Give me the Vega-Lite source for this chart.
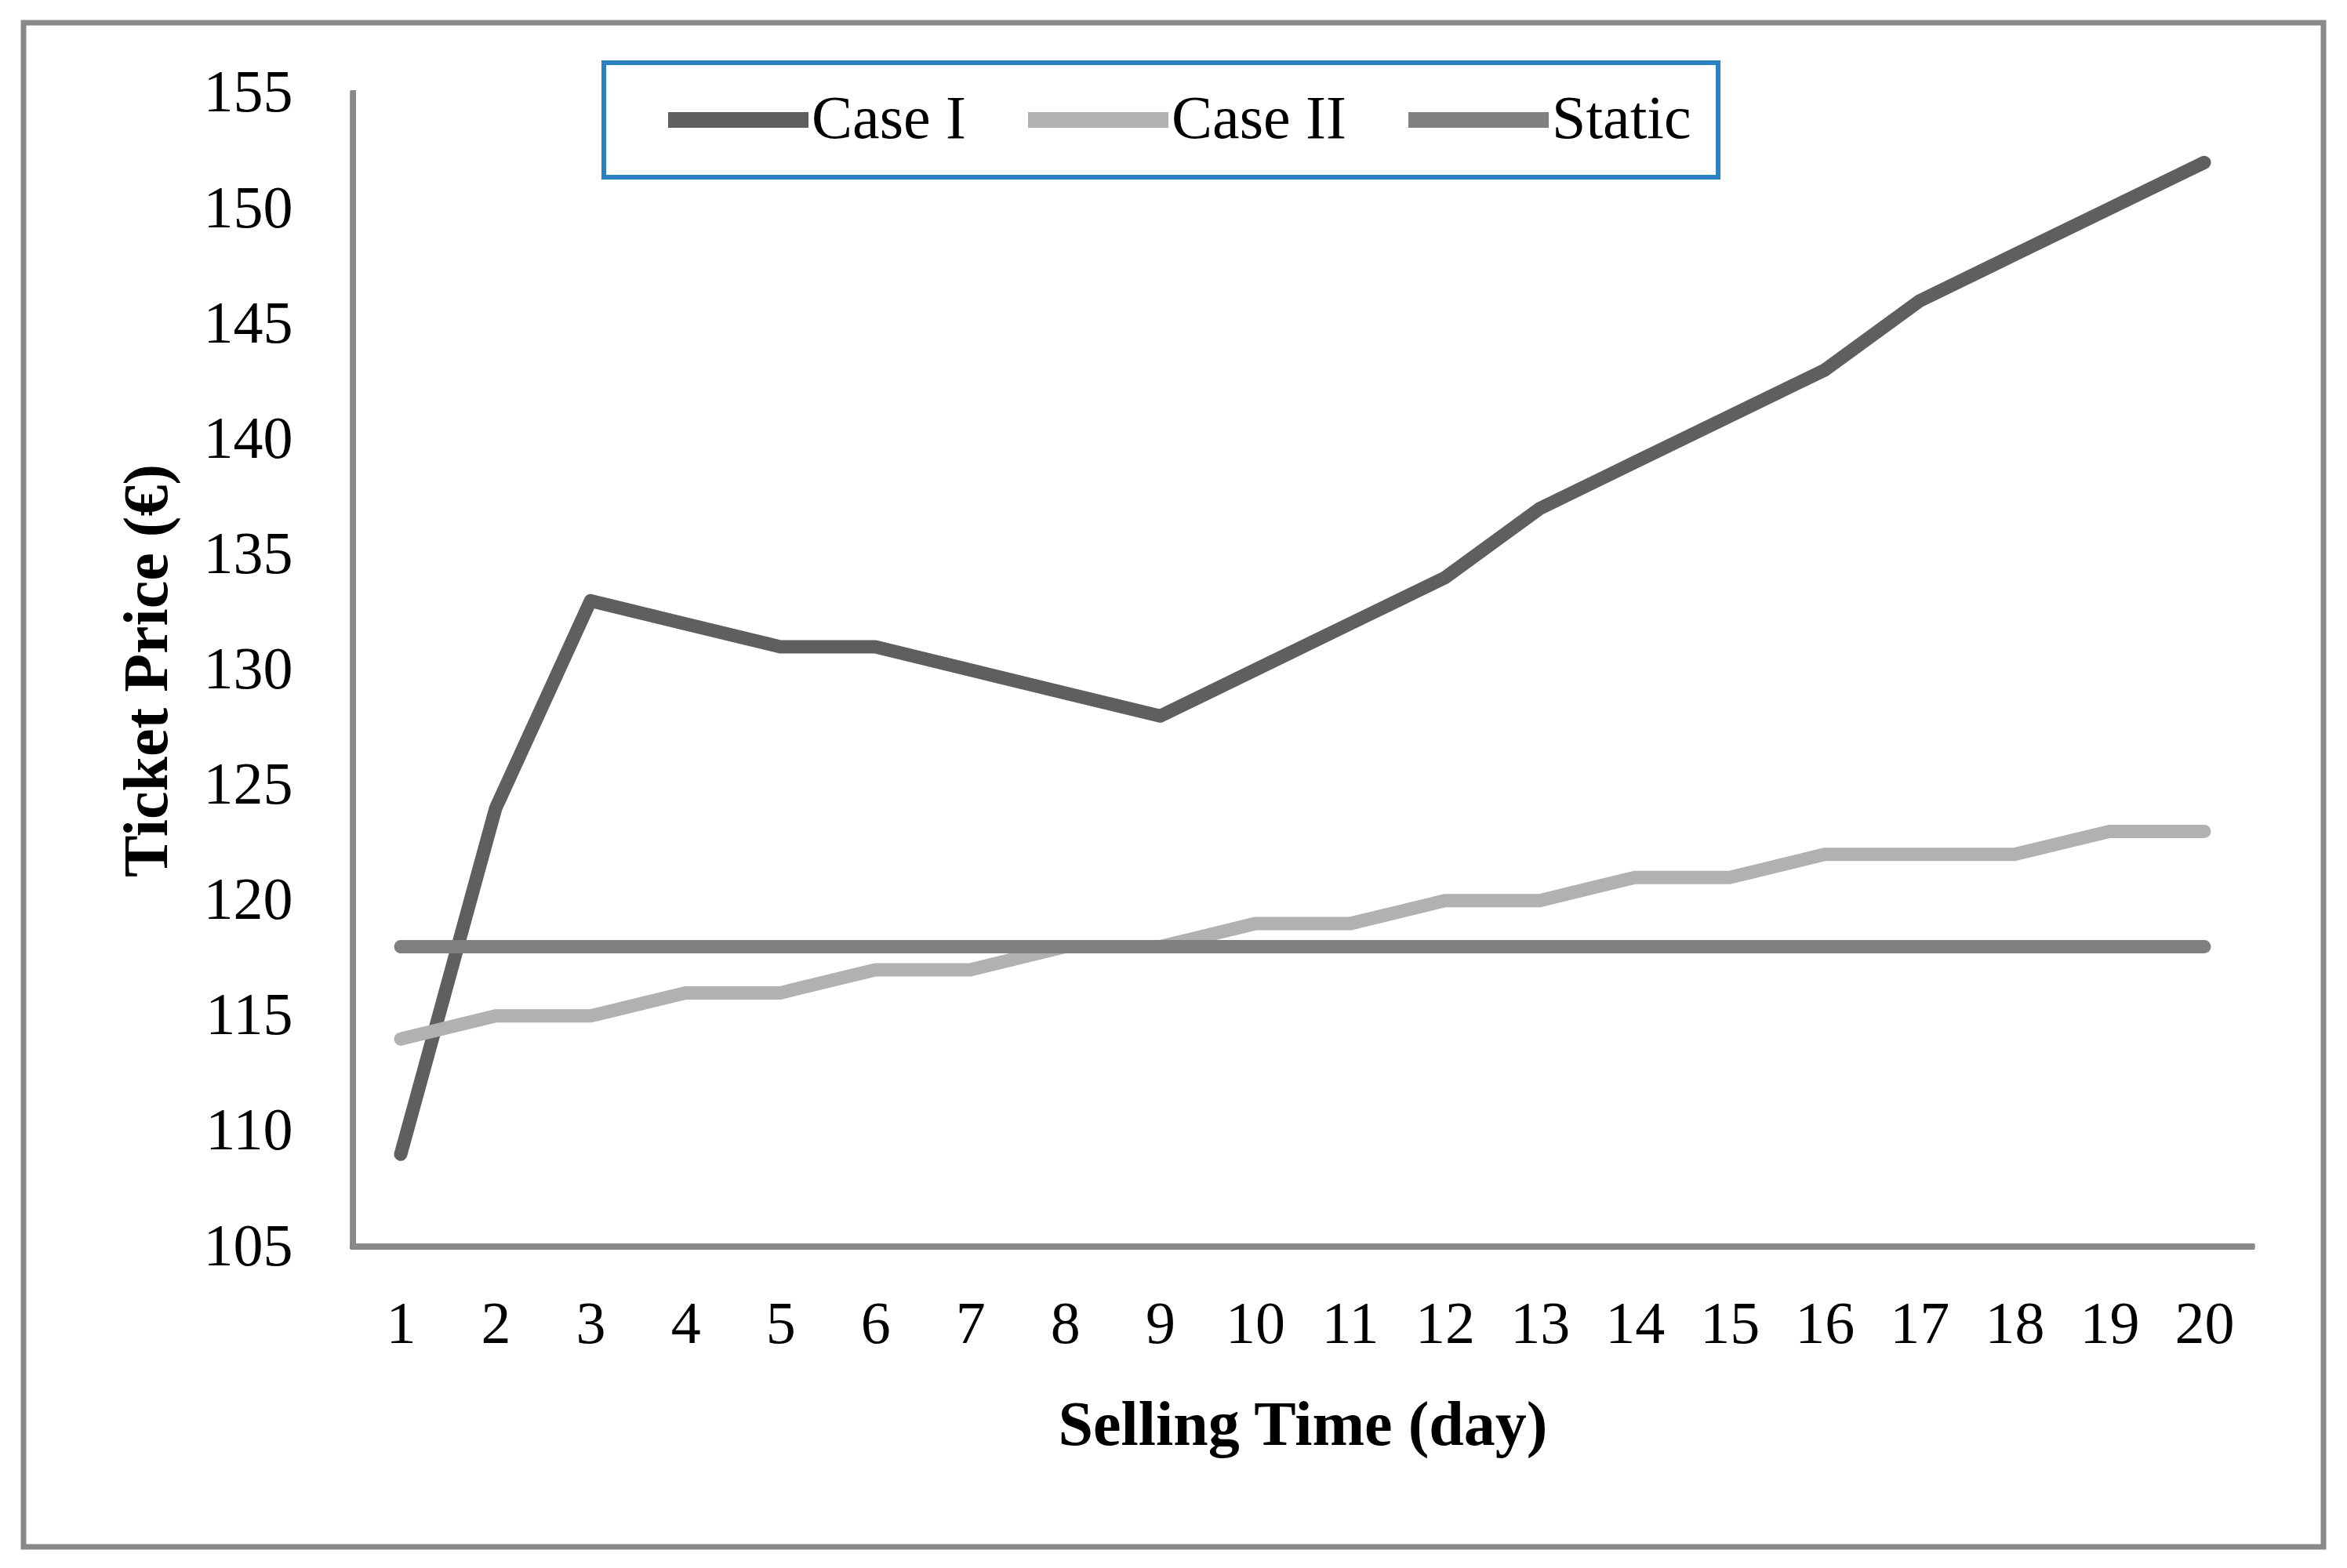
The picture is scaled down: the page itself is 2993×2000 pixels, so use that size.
{
  "$schema": "https://vega.github.io/schema/vega-lite/v6.json",
  "width": 2933,
  "height": 1944,
  "autosize": {"type": "none"},
  "padding": {"left": 30, "top": 29, "right": 30, "bottom": 27},
  "background": "white",
  "config": {
    "view": {"stroke": "#898989", "strokeWidth": 7},
    "font": "Liberation Serif",
    "legend": {"strokeWidth": 6}
  },
  "data": {
    "values": [
      {"day": 1, "series": "Case I", "price": 109},
      {"day": 2, "series": "Case I", "price": 124},
      {"day": 3, "series": "Case I", "price": 133},
      {"day": 4, "series": "Case I", "price": 132},
      {"day": 5, "series": "Case I", "price": 131},
      {"day": 6, "series": "Case I", "price": 131},
      {"day": 7, "series": "Case I", "price": 130},
      {"day": 8, "series": "Case I", "price": 129},
      {"day": 9, "series": "Case I", "price": 128},
      {"day": 10, "series": "Case I", "price": 130},
      {"day": 11, "series": "Case I", "price": 132},
      {"day": 12, "series": "Case I", "price": 134},
      {"day": 13, "series": "Case I", "price": 137},
      {"day": 14, "series": "Case I", "price": 139},
      {"day": 15, "series": "Case I", "price": 141},
      {"day": 16, "series": "Case I", "price": 143},
      {"day": 17, "series": "Case I", "price": 146},
      {"day": 18, "series": "Case I", "price": 148},
      {"day": 19, "series": "Case I", "price": 150},
      {"day": 20, "series": "Case I", "price": 152},
      {"day": 1, "series": "Case II", "price": 114},
      {"day": 2, "series": "Case II", "price": 115},
      {"day": 3, "series": "Case II", "price": 115},
      {"day": 4, "series": "Case II", "price": 116},
      {"day": 5, "series": "Case II", "price": 116},
      {"day": 6, "series": "Case II", "price": 117},
      {"day": 7, "series": "Case II", "price": 117},
      {"day": 8, "series": "Case II", "price": 118},
      {"day": 9, "series": "Case II", "price": 118},
      {"day": 10, "series": "Case II", "price": 119},
      {"day": 11, "series": "Case II", "price": 119},
      {"day": 12, "series": "Case II", "price": 120},
      {"day": 13, "series": "Case II", "price": 120},
      {"day": 14, "series": "Case II", "price": 121},
      {"day": 15, "series": "Case II", "price": 121},
      {"day": 16, "series": "Case II", "price": 122},
      {"day": 17, "series": "Case II", "price": 122},
      {"day": 18, "series": "Case II", "price": 122},
      {"day": 19, "series": "Case II", "price": 123},
      {"day": 20, "series": "Case II", "price": 123},
      {"day": 1, "series": "Static", "price": 118},
      {"day": 2, "series": "Static", "price": 118},
      {"day": 3, "series": "Static", "price": 118},
      {"day": 4, "series": "Static", "price": 118},
      {"day": 5, "series": "Static", "price": 118},
      {"day": 6, "series": "Static", "price": 118},
      {"day": 7, "series": "Static", "price": 118},
      {"day": 8, "series": "Static", "price": 118},
      {"day": 9, "series": "Static", "price": 118},
      {"day": 10, "series": "Static", "price": 118},
      {"day": 11, "series": "Static", "price": 118},
      {"day": 12, "series": "Static", "price": 118},
      {"day": 13, "series": "Static", "price": 118},
      {"day": 14, "series": "Static", "price": 118},
      {"day": 15, "series": "Static", "price": 118},
      {"day": 16, "series": "Static", "price": 118},
      {"day": 17, "series": "Static", "price": 118},
      {"day": 18, "series": "Static", "price": 118},
      {"day": 19, "series": "Static", "price": 118},
      {"day": 20, "series": "Static", "price": 118}
    ]
  },
  "layer": [
    {
      "mark": {"type": "line", "strokeWidth": 17, "strokeCap": "round", "strokeJoin": "round"},
      "encoding": {
        "x": {
          "field": "day",
          "type": "quantitative",
          "scale": {"domain": [-2.9736, 21.2557], "nice": false, "zero": false},
          "axis": {
            "title": "Selling Time (day)",
            "values": [1, 2, 3, 4, 5, 6, 7, 8, 9, 10, 11, 12, 13, 14, 15, 16, 17, 18, 19, 20],
            "format": "d",
            "domain": false,
            "ticks": false,
            "grid": false,
            "offset": -383,
            "labelFont": "Liberation Serif",
            "labelFontSize": 76,
            "labelColor": "black",
            "labelPadding": 62,
            "labelFlush": false,
            "labelOverlap": false,
            "titleFont": "Liberation Serif",
            "titleFontSize": 80,
            "titleFontWeight": "bold",
            "titleColor": "black",
            "titlePadding": 52,
            "titleX": 1631
          }
        },
        "y": {
          "field": "price",
          "type": "quantitative",
          "scale": {"domain": [91.982, 158.059], "nice": false, "zero": false},
          "axis": {
            "title": "Ticket Price (€)",
            "values": [105, 110, 115, 120, 125, 130, 135, 140, 145, 150, 155],
            "format": "d",
            "domain": false,
            "ticks": false,
            "grid": false,
            "offset": -421,
            "labelFont": "Liberation Serif",
            "labelFontSize": 76,
            "labelColor": "black",
            "labelPadding": 78,
            "labelFlush": false,
            "labelOverlap": false,
            "titleFont": "Liberation Serif",
            "titleFontSize": 80,
            "titleFontWeight": "bold",
            "titleColor": "black",
            "titlePadding": 30,
            "titleY": 826
          }
        },
        "color": {
          "field": "series",
          "type": "nominal",
          "scale": {"domain": ["Case I", "Case II", "Static"], "range": ["#5f5f5f", "#b1b1b1", "#808080"]},
          "legend": {
            "orient": "none",
            "legendX": 740,
            "legendY": 51,
            "direction": "horizontal",
            "columns": 3,
            "title": " ",
            "titleOrient": "left",
            "titleFontSize": 4,
            "titlePadding": 38,
            "padding": 34,
            "clipHeight": 78,
            "strokeColor": "#2a82c2",
            "fillColor": "white",
            "symbolType": "stroke",
            "symbolSize": 32041,
            "symbolStrokeWidth": 20,
            "labelFont": "Liberation Serif",
            "labelFontSize": 78,
            "labelColor": "black",
            "labelOffset": -6,
            "labelLimit": 0,
            "columnPadding": 68
          }
        }
      }
    },
    {
      "mark": {"type": "rule", "color": "#898989", "strokeWidth": 7, "strokeCap": "square"},
      "encoding": {
        "x": {"datum": 0.5, "type": "quantitative"},
        "x2": {"datum": 20.5},
        "y": {"datum": 105, "type": "quantitative"}
      }
    },
    {
      "mark": {"type": "rule", "color": "#898989", "strokeWidth": 7, "strokeCap": "square"},
      "encoding": {
        "x": {"datum": 0.5, "type": "quantitative"},
        "y": {"datum": 105, "type": "quantitative"},
        "y2": {"datum": 155}
      }
    }
  ]
}
